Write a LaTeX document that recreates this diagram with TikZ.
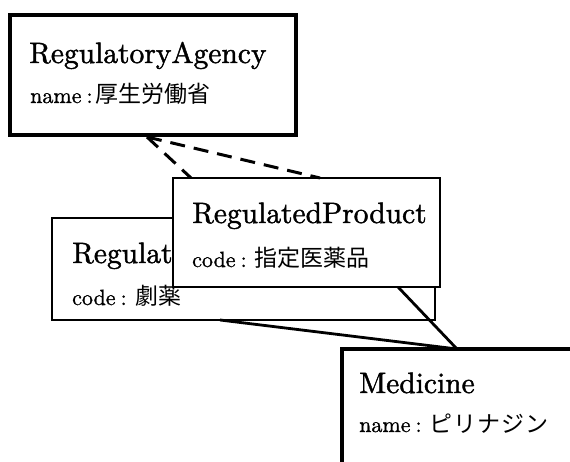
\documentclass[tikz,border=0pt]{standalone}
\usepackage{fontspec}
\newfontfamily\jp{Noto Sans CJK JP}
\newfontfamily\lmbold[FakeBold=1.4]{lmroman10-regular.otf}
\newfontfamily\lmsemi[FakeBold=1.0]{lmroman10-regular.otf}
\usetikzlibrary{calc}
\tikzset{
  cls/.style={draw, fill=white, line width=1.8pt, anchor=north west, inner sep=0pt, outer sep=0pt},
  clsthick/.style={cls, line width=3.5pt},
  ttl/.style={anchor=base west, inner sep=0pt, font=\lmbold\fontsize{29.5}{33}\selectfont},
  attr/.style={anchor=base west, inner sep=0pt, font=\lmsemi\fontsize{22}{26}\selectfont},
  dep/.style={dash pattern=on 15pt off 9pt, line width=3pt},
  assoc/.style={line width=2.8pt},
}
\newcommand\jpt[1]{{\jp\fontsize{23}{26}\selectfont #1}}
\begin{document}
\begin{tikzpicture}[x=1pt,y=-1pt]
\useasboundingbox (0,0) rectangle (570,462);
\clip (0,0) rectangle (570,462);
\fill[white] (0,0) rectangle (570,462);
% RegulatoryAgency
\node[clsthick, minimum width=286pt, minimum height=120pt] (agency) at (10,15) {};
\node[ttl] (agencyT) at (29,63) {RegulatoryAgency};
\node[attr] (agencyA) at (30,103) {name\hspace{5pt}:\hspace{3pt}\jpt{厚生労働省}};
% back RegulatedProduct
\node[cls, minimum width=383pt, minimum height=102pt] (back) at (52,218) {};
\node[ttl] (backT) at (72,263) {Regulat};
\node[attr] (backA) at (72,305) {code\hspace{5pt}:\hspace{9pt}\jpt{劇薬}};
% Medicine
\node[clsthick, line width=4pt, minimum width=300pt, minimum height=200pt] (med) at (342,349) {};
\node[ttl] (medT) at (359,393) {Medicine};
\node[attr] (medA) at (359,432) {name\hspace{5pt}:\hspace{8pt}\jpt{ピ\hspace{1pt}リ\hspace{1pt}ナ\hspace{1pt}ジ\hspace{1pt}ン}};
% connectors of back box
\coordinate (apex) at ($(agency.south west)+(137,2)$);
\draw[dep] (apex) -- ($(back.north west)+(182,0)$);
\draw[assoc] ($(back.south west)+(168,0)$) -- ($(med.north west)+(115,0)$);
% front RegulatedProduct
\node[cls, minimum width=267pt, minimum height=109pt] (front) at (173,178) {};
\node[ttl] (frontT) at (192,223) {RegulatedProduct};
\node[attr] (frontA) at (192,267) {code\hspace{5pt}:\hspace{8pt}\jpt{指定医薬品}};
\draw[dep] (apex) -- ($(front.north west)+(147,0)$);
\draw[assoc] ($(front.south west)+(225,0)$) -- ($(med.north west)+(115,0)$);
\end{tikzpicture}
\end{document}
